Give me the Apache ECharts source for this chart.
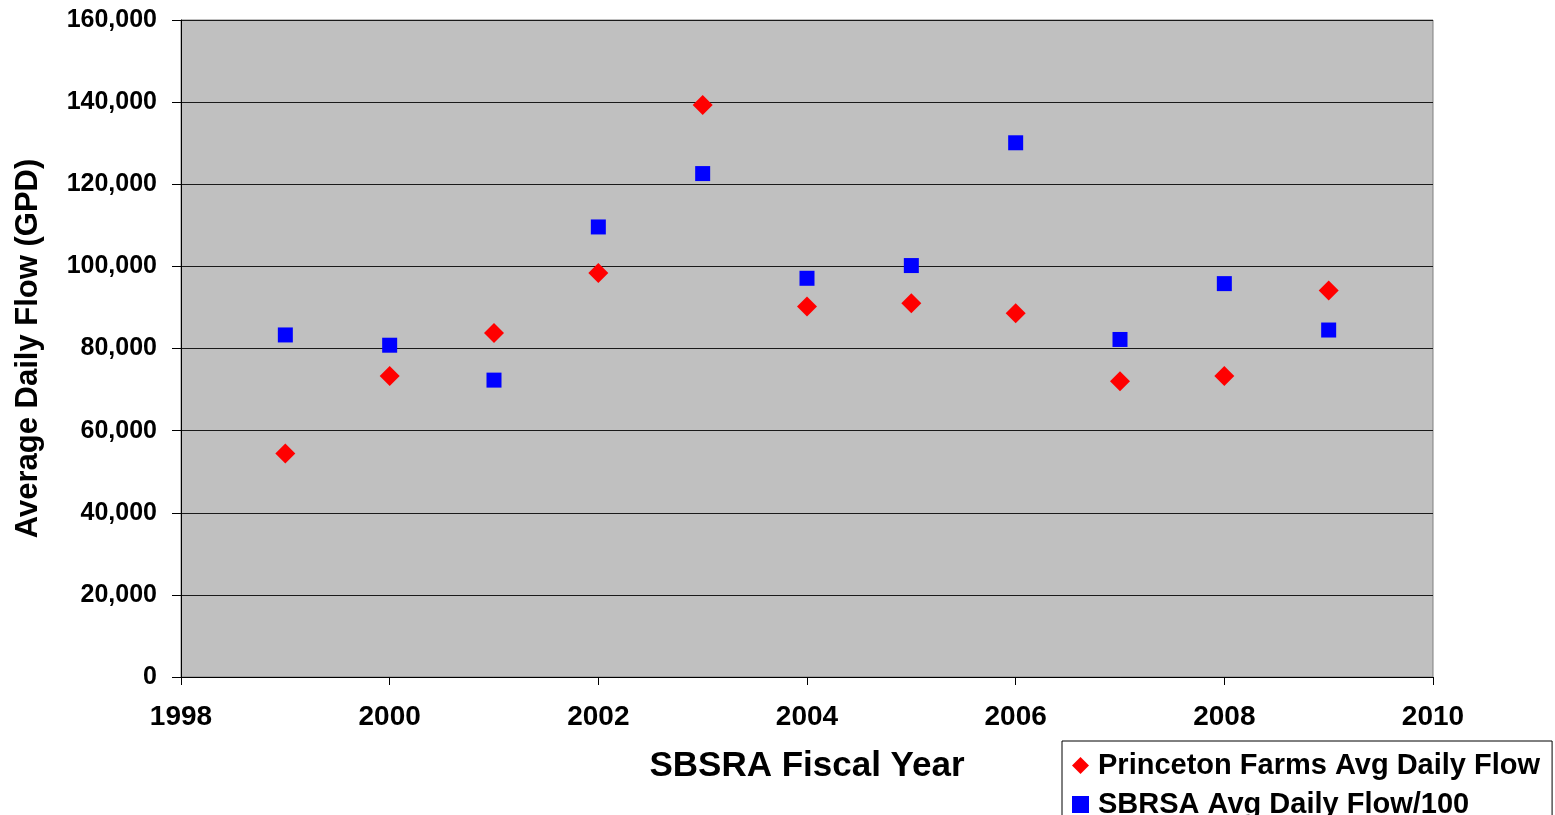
<!DOCTYPE html>
<html>
<head>
<meta charset="utf-8">
<script src="https://cdn.jsdelivr.net/npm/echarts@6/dist/echarts.min.js"></script>
<style>
html,body{margin:0;padding:0;background:#fff;}
#main{width:1555px;height:815px;}
</style>
</head>
<body>
<div id="main"></div>
<script>
const years = [1999, 2000, 2001, 2002, 2003, 2004, 2005, 2006, 2007, 2008, 2009];
const princetonFlow = [54400, 73300, 83800, 98400, 139300, 90200, 91000, 88600, 72000, 73300, 94100];
const sbrsaFlow100 = [83300, 80800, 72300, 109600, 122600, 97100, 100200, 130100, 82200, 95800, 84500];
const seriesNames = ['Princeton Farms Avg Daily Flow', 'SBRSA Avg Daily Flow/100'];
const xTitle = 'SBSRA Fiscal Year';
const yTitle = 'Average Daily Flow (GPD)';

const font = 'Liberation Sans, Arial, sans-serif';
const chart = echarts.init(document.getElementById('main'));
chart.setOption({
  animation: false,
  backgroundColor: '#ffffff',
  grid: {
    left: 181, right: 122, top: 20, bottom: 138,
    show: true, backgroundColor: '#C0C0C0', borderColor: '#808080', borderWidth: 1
  },
  xAxis: {
    type: 'value', min: 1998, max: 2010, interval: 2,
    name: xTitle, nameLocation: 'middle', nameGap: 72,
    nameTextStyle: {fontFamily: font, fontWeight: 'bold', fontSize: 35, color: '#000'},
    axisLine: {show: true, onZero: false, lineStyle: {color: '#000', width: 1}},
    axisTick: {show: true, length: 8, inside: false, lineStyle: {color: '#000'}},
    axisLabel: {margin: 26, fontFamily: font, fontWeight: 'bold', fontSize: 28, color: '#000',
      formatter: v => String(v)},
    splitLine: {show: false}
  },
  yAxis: {
    type: 'value', min: 0, max: 160000, interval: 20000,
    name: yTitle, nameLocation: 'middle', nameGap: 137, nameRotate: 90,
    nameTextStyle: {fontFamily: font, fontWeight: 'bold', fontSize: 31, color: '#000'},
    axisLine: {show: true, lineStyle: {color: '#000', width: 1}},
    axisTick: {show: true, length: 9, inside: false, lineStyle: {color: '#000'}},
    axisLabel: {margin: 24, fontFamily: font, fontWeight: 'bold', fontSize: 25, color: '#000',
      formatter: v => v.toLocaleString('en-US')},
    splitLine: {show: true, lineStyle: {color: '#1a1a1a', width: 1}}
  },
  legend: {
    orient: 'vertical', left: 1062, top: 741, height: 120,
    backgroundColor: '#ffffff', borderColor: '#000', borderWidth: 1,
    padding: [10, 12, 10, 10], itemGap: 10, itemWidth: 17, itemHeight: 17,
    textStyle: {fontFamily: font, fontWeight: 'bold', fontSize: 29, color: '#000', lineHeight: 28, padding: [0,0,0,4]},
    data: [
      {name: seriesNames[0], icon: 'diamond'},
      {name: seriesNames[1], icon: 'rect'}
    ]
  },
  series: [
    {
      name: seriesNames[0], type: 'scatter', symbol: 'diamond', symbolSize: 20,
      itemStyle: {color: '#FF0000', opacity: 1},
      data: years.map((y, i) => [y, princetonFlow[i]])
    },
    {
      name: seriesNames[1], type: 'scatter', symbol: 'rect', symbolSize: 15,
      itemStyle: {color: '#0000FF', opacity: 1},
      data: years.map((y, i) => [y, sbrsaFlow100[i]])
    }
  ]
});
</script>
</body>
</html>
